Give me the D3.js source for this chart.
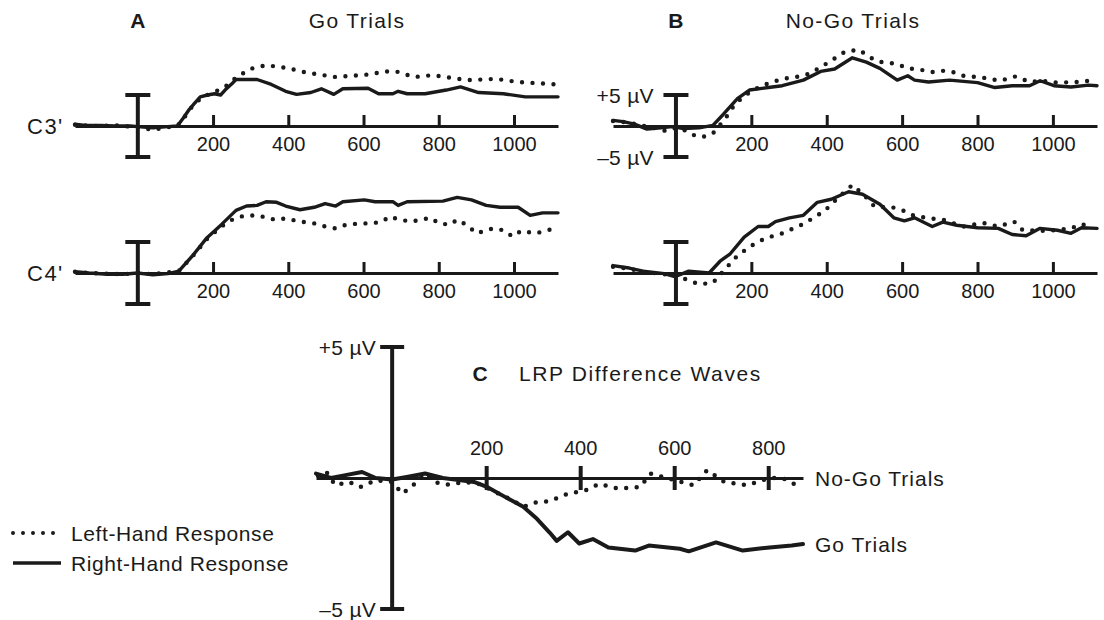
<!DOCTYPE html>
<html><head><meta charset="utf-8">
<script src="https://cdn.jsdelivr.net/npm/d3@7"></script>
<style>
body{margin:0;background:#fff}
text{font-family:"Liberation Sans",Arial,Helvetica,sans-serif;fill:#1a1a1a}
</style>
</head><body>
<svg id="chart" width="1104" height="620"></svg>
<script>
// ---------- data (time in ms, amplitude in µV) ----------
const tickValuesAB = [200, 400, 600, 800, 1000];
const tickValuesC = [200, 400, 600, 800];
const scaleLabels = ["+5 µV", "\u20135 µV"];
const legendLabels = ["Left-Hand Response", "Right-Hand Response"];

// Panel A, Go trials, C3'
const goC3Right = [[-167,0.3],[-140,0.1],[-100,0.1],[-60,0],[-20,0],[0,-0.1],[40,-0.3],[80,-0.1],[105,0],[120,1.2],[137,2.7],[150,3.6],[166,4.7],[185,5.0],[204,5.2],[220,5.0],[232,5.8],[250,6.8],[261,7.5],[317,7.5],[355,6.7],[393,5.6],[422,5.1],[460,5.4],[488,6.0],[521,5.1],[545,6.0],[612,6.1],[640,5.2],[678,5.2],[692,5.6],[716,5.2],[764,5.2],[820,5.8],[858,6.3],[906,5.4],[972,5.2],[1030,4.7],[1117,4.7]];
const goC3Left = [[-167,0.2],[-120,0],[-60,0.1],[0,-0.2],[40,-0.6],[80,-0.2],[105,0],[125,1.5],[145,3.2],[170,4.6],[200,5.4],[230,6.2],[261,7.8],[298,9.2],[341,9.8],[393,9.4],[450,8.6],[526,7.9],[612,8.3],[659,8.8],[687,8.8],[735,7.9],[783,8.2],[830,7.8],[877,7.4],[953,7.6],[1010,7.1],[1117,6.7]];
// Panel A, Go trials, C4'
const goC4Right = [[-167,0.2],[-130,0],[-80,-0.2],[-40,-0.2],[0,0],[40,-0.3],[80,-0.1],[109,0.3],[147,2.9],[184,5.7],[222,7.8],[261,10.1],[289,10.8],[317,10.9],[341,11.5],[369,11.4],[393,10.8],[431,10.2],[469,10.6],[498,11.2],[526,10.8],[545,11.5],[602,11.8],[631,11.5],[678,11.5],[692,10.9],[716,11.5],[811,11.6],[849,12.2],[887,11.8],[926,10.9],[963,10.6],[1011,10.6],[1043,9.3],[1076,9.7],[1117,9.7]];
const goC4Left = [[-167,0.2],[-130,0],[-80,-0.1],[-40,-0.2],[0,0],[40,-0.2],[80,0.1],[109,0.3],[147,2.8],[184,5.5],[222,7.5],[251,8.6],[280,9.2],[317,9.3],[365,8.6],[393,8.8],[431,8.3],[469,8.0],[498,7.5],[526,7.2],[554,7.8],[593,8.0],[621,8.0],[650,8.3],[669,9.1],[697,8.6],[725,8.3],[754,8.6],[778,8.9],[801,8.0],[830,7.8],[849,8.6],[873,7.8],[901,6.4],[944,7.2],[972,6.9],[996,5.9],[1019,6.8],[1058,6.4],[1096,7.0],[1117,7.0]];
// Panel B, No-Go trials, C3'
const nogoC3Right = [[-167,0.9],[-140,0.7],[-110,0.3],[-77,-0.5],[-40,-0.3],[-10,-0.1],[20,-0.4],[61,-0.3],[98,0.1],[126,1.9],[163,4.4],[195,5.8],[245,6.2],[282,6.5],[338,7.4],[384,8.8],[421,9.2],[468,11.0],[505,10.3],[541,9.3],[587,7.4],[615,8.1],[633,7.4],[670,7.1],[726,7.4],[800,7.0],[846,6.2],[892,6.5],[938,6.5],[966,7.3],[1003,6.5],[1048,6.3],[1095,6.6],[1117,6.5]];
const nogoC3Left = [[-167,0.8],[-130,0.6],[-100,0.2],[-60,-0.3],[-27,-0.8],[0,-0.3],[20,-0.6],[43,-1.4],[70,-1.8],[98,-1.2],[130,1.1],[154,3.3],[181,4.9],[227,6.5],[282,7.6],[329,8.0],[357,8.5],[403,10.2],[449,12.0],[486,12.3],[514,11.1],[537,10.4],[587,10.0],[615,9.3],[647,9.1],[680,8.7],[708,8.9],[735,8.7],[763,8.1],[814,7.8],[860,7.3],[901,8.0],[938,7.1],[966,7.3],[1010,7.0],[1067,7.1],[1095,7.3],[1117,7.0]];
// Panel B, No-Go trials, C4'
const nogoC4Right = [[-167,1.2],[-124,0.8],[-87,0.3],[-31,-0.1],[-3,-0.6],[34,0.3],[88,0],[117,1.9],[144,3.1],[181,5.8],[218,7.5],[245,7.5],[264,8.3],[301,8.9],[338,9.3],[375,11.4],[412,11.9],[458,13.1],[495,12.7],[541,11.1],[578,8.9],[606,8.4],[633,8.9],[680,7.5],[708,8.2],[745,7.7],[800,7.3],[855,7.2],[892,6.2],[929,6.0],[966,7.2],[1012,6.9],[1048,6.4],[1076,7.3],[1117,7.2]];
const nogoC4Left = [[-167,1.0],[-124,0.7],[-87,0.2],[-31,-0.2],[0,-0.4],[34,-1.2],[61,-1.8],[98,-1.6],[130,0.6],[163,2.8],[200,4.4],[237,5.6],[282,6.4],[338,7.9],[394,10.0],[431,12.2],[468,14.2],[500,12.5],[527,10.7],[574,10.6],[606,10.0],[633,9.2],[676,8.8],[708,8.6],[763,7.5],[814,8.1],[855,7.5],[897,8.3],[920,6.9],[985,6.8],[1048,7.2],[1076,7.9],[1104,7.3]];
// Panel C, LRP difference waves
const lrpGo = [[-162,0.17],[-130,0],[-102,0.1],[-64,0.23],[-35,0],[0,-0.06],[31,0.04],[70,0.17],[108,0],[146,-0.09],[174,-0.15],[203,-0.35],[241,-0.73],[279,-1.1],[308,-1.56],[336,-2.1],[350,-2.4],[374,-2.07],[398,-2.5],[427,-2.33],[460,-2.65],[517,-2.77],[546,-2.58],[612,-2.7],[631,-2.8],[689,-2.46],[746,-2.77],[803,-2.65],[850,-2.58],[874,-2.52]];
const lrpNoGo = [[-158,0.1],[-140,0.23],[-121,-0.28],[-92,-0.15],[-68,-0.35],[-35,-0.09],[0,-0.15],[22,-0.6],[46,-0.25],[70,0.17],[89,-0.15],[117,-0.25],[155,-0.15],[184,-0.22],[212,-0.47],[250,-0.8],[279,-1.1],[308,-0.92],[336,-0.88],[374,-0.6],[412,-0.47],[441,-0.22],[479,-0.4],[527,-0.35],[550,0.17],[584,0],[641,-0.28],[670,0.3],[707,-0.15],[755,-0.28],[803,0],[831,0],[860,-0.28],[874,-0.28]];

// ---------- drawing ----------
const ink = "#1a1a1a";
const svg = d3.select("#chart");
const timeDomainAB = [-167, 1117];
const fmt = d3.format("d");

function scaleBar(g, x, y, capHalf, width) {
  g.append("line").attr("x1", x).attr("x2", x).attr("y1", y(5)).attr("y2", y(-5))
    .attr("stroke", ink).attr("stroke-width", width);
  [5, -5].forEach(v => g.append("line").attr("x1", x - capHalf).attr("x2", x + capHalf)
    .attr("y1", y(v)).attr("y2", y(v)).attr("stroke", ink).attr("stroke-width", width));
}

function drawWave(g, x, y, data, dotted, width) {
  const line = d3.line().x(d => x(d[0])).y(d => y(d[1])).curve(d3.curveLinear);
  const p = g.append("path").datum(data).attr("d", line)
    .attr("fill", "none").attr("stroke", ink)
    .attr("stroke-linejoin", "round").attr("stroke-linecap", "round");
  if (dotted) p.attr("stroke-width", width + 1).attr("stroke-dasharray", "0 10.5");
  else p.attr("stroke-width", width);
}

function label(g, x, y, txt, size, spacing, anchor) {
  return g.append("text").attr("x", x).attr("y", y).attr("dy", "0.36em")
    .attr("text-anchor", anchor || "start").attr("font-size", size)
    .style("letter-spacing", spacing + "px").text(txt);
}

function erpRow(xRange, baseY, rightData, leftData, opts) {
  const x = d3.scaleLinear().domain(timeDomainAB).range(xRange);
  const y = d3.scaleLinear().domain([-5, 5]).range([baseY + 31, baseY - 31]);
  const g = svg.append("g");
  const axis = d3.axisBottom(x).tickValues(tickValuesAB).tickFormat(fmt)
    .tickSizeInner(-11).tickSizeOuter(0).tickPadding(11);
  const ga = g.append("g").attr("transform", `translate(0,${y(0)})`).call(axis);
  ga.select(".domain").attr("stroke", ink).attr("stroke-width", 3);
  ga.selectAll(".tick line").attr("stroke", ink).attr("stroke-width", 3);
  ga.selectAll(".tick text").attr("font-size", 20).attr("fill", ink)
    .style("font-family", '"Liberation Sans", Arial, sans-serif');
  scaleBar(g, x(0), y, 12.5, 4);
  drawWave(g, x, y, rightData, false, 3.4);
  drawWave(g, x, y, leftData, true, 3.4);
  if (opts.rowLabel) label(g, 27, y(0), opts.rowLabel, 22, 1.5);
  if (opts.scaleText) {
    label(g, x(0) - 22, y(5), scaleLabels[0], 21, 0.3, "end");
    label(g, x(0) - 22, y(-5), scaleLabels[1], 21, 0.3, "end");
  }
  return x;
}

const xA1 = erpRow([75, 558], 126, goC3Right, goC3Left, {rowLabel: "C3'"});
erpRow([75, 558], 273, goC4Right, goC4Left, {rowLabel: "C4'"});
const xB1 = erpRow([613, 1097], 126, nogoC3Right, nogoC3Left, {scaleText: true});
erpRow([613, 1097], 273, nogoC4Right, nogoC4Left, {});

// Titles
function title(letter, lx, name, nx, y) {
  svg.append("text").attr("x", lx).attr("y", y).attr("text-anchor", "middle")
    .attr("font-size", 21).attr("font-weight", "bold").text(letter);
  svg.append("text").attr("x", nx).attr("y", y).attr("text-anchor", "middle")
    .attr("font-size", 21).style("letter-spacing", "1.4px").text(name);
}
title("A", xA1(0), "Go Trials", 357, 28);
title("B", xB1(0), "No-Go Trials", 853, 28);

// Panel C
(function () {
  const x = d3.scaleLinear().domain([-162, 874]).range([316, 803]);
  const y = d3.scaleLinear().domain([-5, 5]).range([609, 347]);
  const g = svg.append("g");
  const axis = d3.axisTop(x).tickValues(tickValuesC).tickFormat(fmt)
    .tickSizeInner(12).tickSizeOuter(0).tickPadding(11);
  const ga = g.append("g").attr("transform", `translate(0,${y(0)})`).call(axis);
  ga.select(".domain").attr("stroke", ink).attr("stroke-width", 3);
  ga.selectAll(".tick line").attr("stroke", ink).attr("stroke-width", 4).attr("y2", 12).attr("y1", -12);
  ga.selectAll(".tick text").attr("font-size", 20).attr("fill", ink)
    .style("font-family", '"Liberation Sans", Arial, sans-serif');
  scaleBar(g, x(0), y, 12, 4);
  drawWave(g, x, y, lrpGo, false, 4);
  drawWave(g, x, y, lrpNoGo, true, 3.5);
  label(g, x(0) - 16, y(5), scaleLabels[0], 21, 0.3, "end");
  label(g, x(0) - 16, y(-5), scaleLabels[1], 21, 0.3, "end");
  g.append("text").attr("x", 480).attr("y", 381).attr("text-anchor", "middle")
    .attr("font-size", 21).attr("font-weight", "bold").text("C");
  g.append("text").attr("x", 519).attr("y", 381)
    .attr("font-size", 21).style("letter-spacing", "1.6px").text("LRP Difference Waves");
  const last = a => a[a.length - 1];
  label(g, 815, y(0), "No-Go Trials", 21, 1);
  label(g, 815, y(last(lrpGo)[1]), "Go Trials", 21, 1);
})();

// Legend
const legend = svg.append("g");
legendLabels.forEach((lab, i) => {
  const ly = 533 + i * 30;
  legend.append("line").attr("x1", 13).attr("x2", 61).attr("y1", ly).attr("y2", ly)
    .attr("stroke", ink).attr("stroke-linecap", i === 0 ? "round" : "butt")
    .attr("stroke-width", i === 0 ? 4 : 3.5)
    .attr("stroke-dasharray", i === 0 ? "0 10" : null);
  label(legend, 71, ly, lab, 21, 0.6);
});
</script>
</body></html>
